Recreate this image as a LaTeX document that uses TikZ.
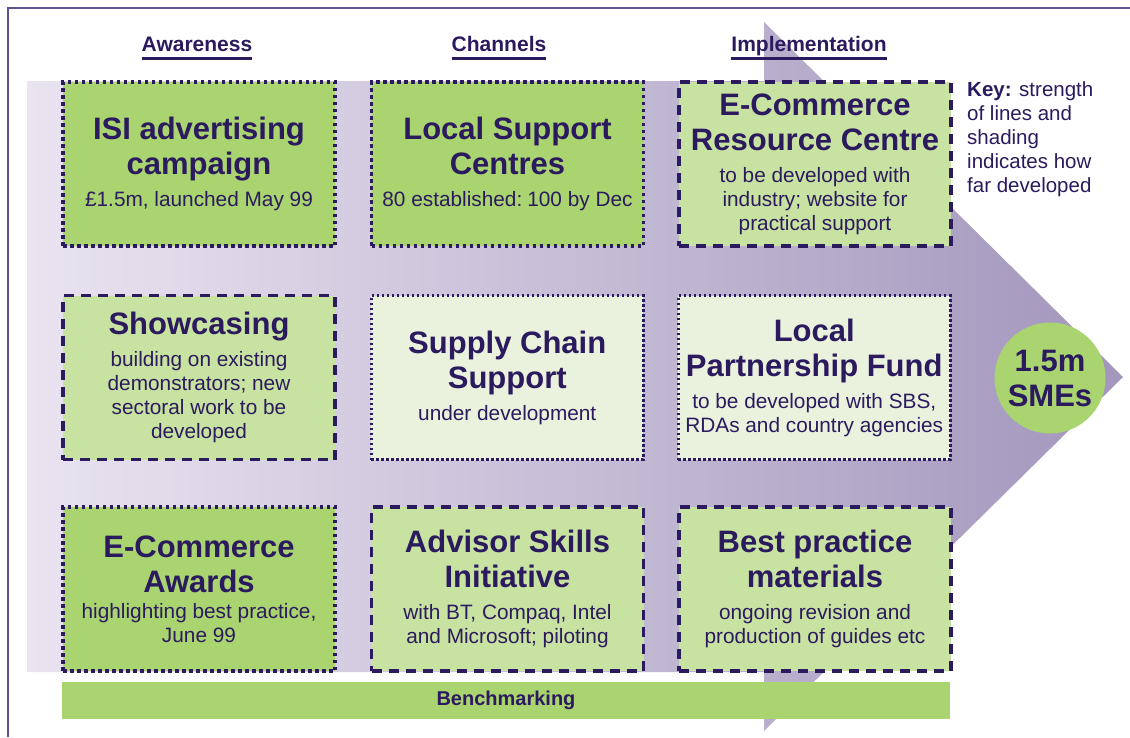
\documentclass[tikz,border=0pt]{standalone}
\usepackage{fontspec}
\setmainfont{Liberation Sans}
\usepackage{tikz}
\usetikzlibrary{positioning,shapes.geometric,calc}
\definecolor{inkpurple}{HTML}{2B1A5E}
\definecolor{framepurple}{HTML}{5A5590}
\definecolor{arrowlight}{HTML}{E9E4F0}
\definecolor{arrowdark}{HTML}{A296BC}
\definecolor{greenfull}{HTML}{A9D46F}
\definecolor{greenmid}{HTML}{C8E2A1}
\definecolor{greenpale}{HTML}{EAF2DD}

\newcommand{\titlefont}{\fontsize{31}{35}\selectfont\bfseries\spaceskip=\fontdimen2\font\relax}
\newcommand{\subfont}{\fontsize{20.8}{24}\selectfont\spaceskip=\fontdimen2\font\relax}
\newcommand{\boxtext}[3][8pt]{{\titlefont #2\par}\vspace{#1}{\subfont #3\par}}

\begin{document}
\begin{tikzpicture}[
    x=1pt, y=-1pt,
    box/.style={rectangle, draw=inkpurple, line width=3.5pt, text width=266pt, inner sep=3pt,
                minimum height=164pt, align=center, text=inkpurple},
    devfull/.style={box, fill=greenfull, dash pattern=on 3.5pt off 3.5pt},
    devpart/.style={box, fill=greenmid, dash pattern=on 10pt off 7pt},
    devearly/.style={box, fill=greenpale, line width=3pt, dash pattern=on 2.5pt off 2.5pt},
    hdr/.style={font=\fontsize{21}{25}\selectfont\bfseries, text=inkpurple, inner sep=0pt, anchor=base},
    uline/.style={draw=inkpurple, line width=2.6pt},
    bar/.style={fill=greenfull, minimum width=888pt, minimum height=37pt, inner sep=0pt,
                text=inkpurple, font=\fontsize{20}{24}\selectfont\bfseries}
]
\useasboundingbox (0,0) rectangle (1130,737);

% frame and big arrow
\draw[framepurple, line width=2pt] (8,737) -- (8,8) -- (1130,8);
\shade[left color=arrowlight, right color=arrowdark]
  (27,81) -- (764,81) -- (764,22) -- (1123,377) -- (764,731) -- (764,672) -- (27,672) -- cycle;

% column headers
\node[hdr] (hawareness) at (197,51.5) {Awareness};
\node[hdr] (hchannels) at (499,51.5) {Channels};
\node[hdr] (himplement) at (809,51.5) {Implementation};
\foreach \h in {hawareness,hchannels,himplement}
  \draw[uline] ([yshift=-7pt]\h.base west) -- ([yshift=-7pt]\h.base east);

% grid of initiatives
\node[devfull] (isi) at (199,164) {\boxtext{ISI advertising\\campaign}{£1.5m, launched May 99}};
\node[devfull, right=33pt of isi] (lsc) {\boxtext{Local Support\\Centres}{80 established: 100 by Dec}};
\node[devpart, right=32pt of lsc] (ecrc) {\boxtext{E-Commerce\\Resource Centre}{to be developed with\\industry; website for\\practical support}};

\node[devpart, below=46pt of isi] (show) {\boxtext{Showcasing}{building on existing\\demonstrators; new\\sectoral work to be\\developed}};
\node[devearly, right=33pt of show] (scs) {\boxtext{Supply Chain\\Support}{under development}};
\node[devearly, right=32pt of scs] (lpf) {\boxtext{Local\\Partnership Fund}{to be developed with SBS,\\RDAs and country agencies}};

\node[devfull, below=44pt of show] (awards) {\boxtext[2pt]{E-Commerce\\Awards}{highlighting best practice,\\June 99}};
\node[devpart, right=33pt of awards] (asi) {\boxtext{Advisor Skills\\Initiative}{with BT, Compaq, Intel\\and Microsoft; piloting}};
\node[devpart, right=32pt of asi] (bpm) {\boxtext{Best practice\\materials}{ongoing revision and\\production of guides etc}};

% benchmarking bar
\node[bar] (bench) at (506,700.5) {Benchmarking};

% key and target
\node[anchor=north west, inner sep=0pt, align=left, text=inkpurple,
      font=\fontsize{20.5}{24}\selectfont] (key) at (967,81)
  {\textbf{Key:} strength\\of lines and\\shading\\indicates how\\far developed};
\node[circle, fill=greenfull, minimum size=111pt, inner sep=0pt, align=center, text=inkpurple,
      font=\fontsize{31}{35}\selectfont\bfseries] (smes) at (1050,378) {1.5m\\SMEs};
\end{tikzpicture}
\end{document}
